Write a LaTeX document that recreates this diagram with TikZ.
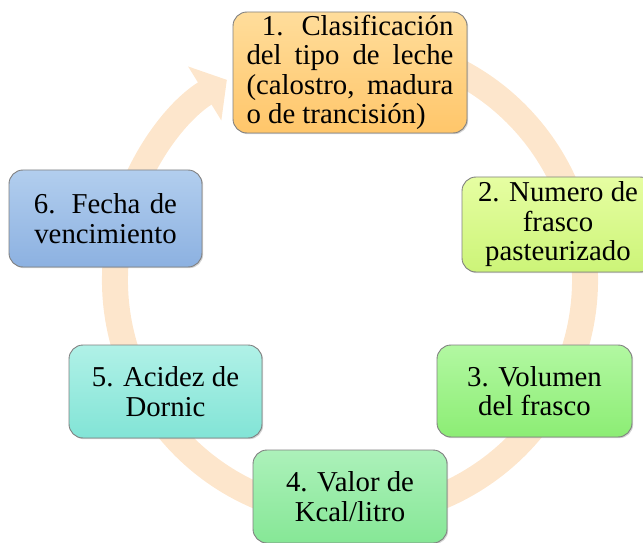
\documentclass[tikz,border=0pt]{standalone}
\usepackage{fontspec}
\setmainfont{Liberation Serif}
\usetikzlibrary{arrows.meta,shadows}

\definecolor{anillo}{RGB}{253,230,204}
\definecolor{naranjaA}{RGB}{255,221,155}
\definecolor{naranjaB}{RGB}{255,198,106}
\definecolor{limaA}{RGB}{230,254,162}
\definecolor{limaB}{RGB}{204,244,120}
\definecolor{verdeA}{RGB}{178,248,162}
\definecolor{verdeB}{RGB}{140,237,116}
\definecolor{mentaA}{RGB}{172,241,186}
\definecolor{mentaB}{RGB}{134,231,150}
\definecolor{turqA}{RGB}{176,241,231}
\definecolor{turqB}{RGB}{130,228,214}
\definecolor{azulA}{RGB}{178,206,238}
\definecolor{azulB}{RGB}{140,177,225}

\tikzset{
  paso/.style={draw=black!50,line width=.9pt,rounded corners=14pt,align=center,
    minimum width=193pt,minimum height=93pt,inner sep=0pt,
    font=\fontsize{28.8}{29.5}\selectfont,
    drop shadow={shadow xshift=1.2pt,shadow yshift=-1.2pt,opacity=.35}},
  ciclo/.style={draw=anillo,line width=26pt,-{Triangle[width=62pt,length=26pt]}}
}

\begin{document}
\begin{tikzpicture}[x=1pt,y=1pt]
\clip (0,0) rectangle (643,542);
\coordinate (c) at (350,262);
% anillo del ciclo
\draw[ciclo] ([shift={(75:235)}]c) arc[start angle=75,end angle=-238.4,radius=235];

\node[paso,top color=naranjaA,bottom color=naranjaB,minimum width=234pt,minimum height=121pt] (p1) at (350,469.5)
  {\makebox[207pt][r]{1.\hspace{18pt}Clasificación}\\
   \makebox[207pt][s]{del tipo de leche}\\
   \makebox[207pt][s]{(calostro, madura}\\
   \makebox[207pt][l]{o de trancisión)}};
\node[paso,top color=limaA,bottom color=limaB,minimum width=192pt,minimum height=95pt] (p2) at (558,317.5)
  {2. Numero de\\frasco\\pasteurizado};
\node[paso,top color=verdeA,bottom color=verdeB,minimum width=195pt,minimum height=92pt] (p3) at (534.5,151)
  {3. Volumen\\del frasco};
\node[paso,top color=mentaA,bottom color=mentaB,minimum width=194pt] (p4) at (350,45.5)
  {4. Valor de\\Kcal/litro};
\node[paso,top color=turqA,bottom color=turqB] (p5) at (165.5,150.5)
  {5. Acidez de\\Dornic};
\node[paso,top color=azulA,bottom color=azulB,minimum height=97pt] (p6) at (105.5,323.5)
  {\makebox[143pt][s]{6. Fecha de}\\vencimiento};
\end{tikzpicture}
\end{document}
